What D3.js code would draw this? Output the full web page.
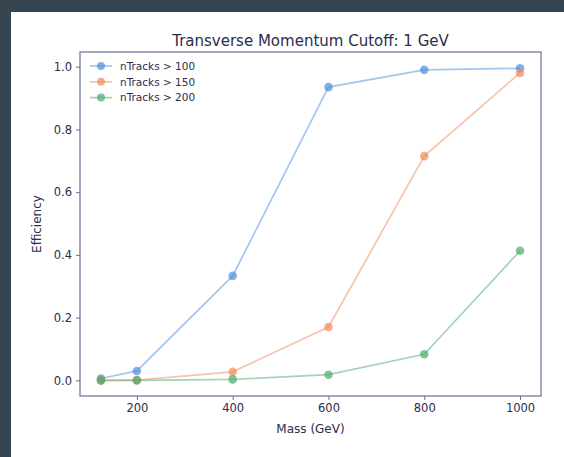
<!DOCTYPE html>
<html><head><meta charset="utf-8">
<script src="https://cdn.jsdelivr.net/npm/d3@7"></script>
<style>
html,body{margin:0;padding:0;background:#36454f;}
svg{display:block;}
</style></head>
<body>
<svg id="c" width="564" height="457"></svg>
<script>
const masses = [125, 200, 400, 600, 800, 1000];
const seriesNames = ["nTracks > 100", "nTracks > 150", "nTracks > 200"];
const eff100 = [0.006, 0.030, 0.333, 0.935, 0.990, 0.995];
const eff150 = [0.000, 0.001, 0.027, 0.170, 0.715, 0.980];
const eff200 = [0.000, 0.000, 0.003, 0.018, 0.083, 0.413];
const xTicks = [200, 400, 600, 800, 1000];
const yTicks = [0.0, 0.2, 0.4, 0.6, 0.8, 1.0];
const colors = ["#4a8fdc", "#f08a5a", "#4aaa6e"];

const svg = d3.select("#c");
svg.append("rect").attr("x",11).attr("y",12).attr("width",553).attr("height",445).attr("fill","#ffffff");

const L=80, R=541, T=52, B=396;
const x = d3.scaleLinear().domain([81.25, 1043.75]).range([L, R]);
const y = d3.scaleLinear().domain([-0.0499, 1.0469]).range([B, T]);
const ink = "#2b2d4a";
const frame = "#6a6e96";
const font = "DejaVu Sans, sans-serif";

const series = [eff100, eff150, eff200];
series.forEach((s, i) => {
  const pts = masses.map((m, j) => [m, s[j]]);
  svg.append("path").datum(pts)
    .attr("fill","none").attr("stroke",colors[i]).attr("stroke-width",1.7).attr("opacity",0.5)
    .attr("d", d3.line().x(d=>x(d[0])).y(d=>y(d[1])));
  svg.append("g").selectAll("circle").data(pts).enter().append("circle")
    .attr("cx",d=>x(d[0])).attr("cy",d=>y(d[1])).attr("r",4.3)
    .attr("fill",colors[i]).attr("opacity",0.7);
});

// frame
svg.append("rect").attr("x",L).attr("y",T).attr("width",R-L).attr("height",B-T)
  .attr("fill","none").attr("stroke",frame).attr("stroke-width",1.2);

const xAxis = svg.append("g").attr("transform",`translate(0,${B})`)
  .call(d3.axisBottom(x).tickValues(xTicks).tickSize(4).tickPadding(4).tickFormat(d3.format("d")));
const yAxis = svg.append("g").attr("transform",`translate(${L},0)`)
  .call(d3.axisLeft(y).tickValues(yTicks).tickSize(4).tickPadding(4).tickFormat(d3.format(".1f")));
[xAxis, yAxis].forEach(a => {
  a.select(".domain").remove();
  a.selectAll(".tick line").attr("stroke",frame);
  a.selectAll(".tick text").attr("fill",ink).style("font-family",font).style("font-size","11.5px");
});

svg.append("text").attr("x",(L+R)/2).attr("y",46).attr("text-anchor","middle")
  .attr("fill",ink).style("font-family",font).style("font-size","15px")
  .text("Transverse Momentum Cutoff: 1 GeV");
svg.append("text").attr("x",(L+R)/2).attr("y",433).attr("text-anchor","middle")
  .attr("fill",ink).style("font-family",font).style("font-size","12px").text("Mass (GeV)");
svg.append("text").attr("transform",`translate(41,${(T+B)/2}) rotate(-90)`).attr("text-anchor","middle")
  .attr("fill",ink).style("font-family",font).style("font-size","12px").text("Efficiency");

// legend
const lg = svg.append("g");
seriesNames.forEach((n, i) => {
  const yy = 66 + i*15.8;
  lg.append("line").attr("x1",90).attr("x2",112).attr("y1",yy).attr("y2",yy)
    .attr("stroke",colors[i]).attr("stroke-width",1.7).attr("opacity",0.5);
  lg.append("circle").attr("cx",101).attr("cy",yy).attr("r",4).attr("fill",colors[i]).attr("opacity",0.7);
  lg.append("text").attr("x",120).attr("y",yy+3.7).attr("fill",ink)
    .style("font-family",font).style("font-size","10.5px").text(n);
});
</script>
</body></html>
